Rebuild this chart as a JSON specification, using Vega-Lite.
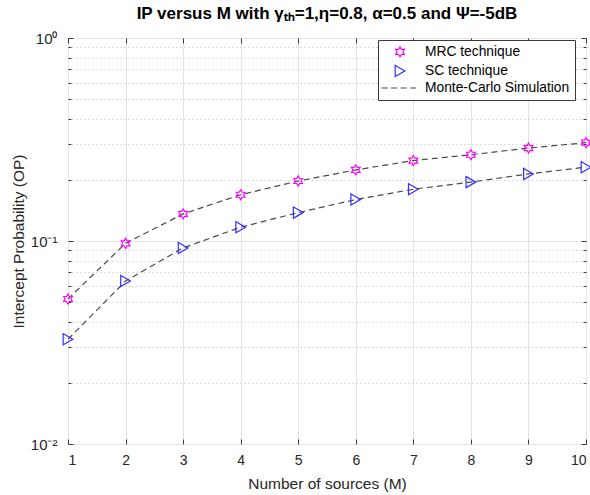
{
  "$schema": "https://vega.github.io/schema/vega-lite/v6.json",
  "width": 518,
  "height": 406,
  "autosize": {"type": "none"},
  "padding": {"left": 68, "top": 38, "right": 4, "bottom": 51},
  "background": "white",
  "config": {
    "font": "Liberation Sans",
    "view": {"stroke": "#3a3a3a", "strokeWidth": 1},
    "axis": {"labelFont": "Liberation Sans", "titleFont": "Liberation Sans", "labelColor": "#262626", "titleColor": "#262626", "titleFontWeight": "normal", "domain": false, "tickColor": "#3a3a3a"}
  },
  "title": {"text": "IP versus M with γₜₕ=1,η=0.8, α=0.5 and Ψ=-5dB", "fontSize": 17, "fontWeight": "bold", "color": "#000000", "anchor": "middle", "offset": 8, "font": "Liberation Sans"},
  "data": {"values": [
    {"M": 1, "series": "MRC technique", "OP": 0.0518},
    {"M": 2, "series": "MRC technique", "OP": 0.0974},
    {"M": 3, "series": "MRC technique", "OP": 0.136},
    {"M": 4, "series": "MRC technique", "OP": 0.169},
    {"M": 5, "series": "MRC technique", "OP": 0.1975},
    {"M": 6, "series": "MRC technique", "OP": 0.224},
    {"M": 7, "series": "MRC technique", "OP": 0.249},
    {"M": 8, "series": "MRC technique", "OP": 0.266},
    {"M": 9, "series": "MRC technique", "OP": 0.287},
    {"M": 10, "series": "MRC technique", "OP": 0.305},
    {"M": 1, "series": "SC technique", "OP": 0.0328},
    {"M": 2, "series": "SC technique", "OP": 0.0635},
    {"M": 3, "series": "SC technique", "OP": 0.0924},
    {"M": 4, "series": "SC technique", "OP": 0.117},
    {"M": 5, "series": "SC technique", "OP": 0.138},
    {"M": 6, "series": "SC technique", "OP": 0.160},
    {"M": 7, "series": "SC technique", "OP": 0.180},
    {"M": 8, "series": "SC technique", "OP": 0.195},
    {"M": 9, "series": "SC technique", "OP": 0.214},
    {"M": 10, "series": "SC technique", "OP": 0.231}
  ]},
  "resolve": {"axis": {"x": "independent", "y": "independent"}},
  "layer": [
    {
      "mark": {"type": "point", "opacity": 0},
      "encoding": {
        "x": {"field": "M", "type": "quantitative", "scale": {"domain": [1, 10], "nice": false, "zero": false}, "axis": null},
        "y": {"field": "OP", "type": "quantitative", "scale": {"type": "log", "domain": [0.01, 1], "nice": false},
          "axis": {"orient": "left", "values": [0.02, 0.03, 0.04, 0.05, 0.06, 0.07, 0.08, 0.09, 0.2, 0.3, 0.4, 0.5, 0.6, 0.7, 0.8, 0.9], "labels": false, "title": null, "grid": true, "gridDash": [1, 3], "gridColor": "#b8b8b8", "gridWidth": 1, "ticks": true, "tickSize": -3}}
      }
    },
    {
      "mark": {"type": "point", "opacity": 0},
      "encoding": {
        "x": {"field": "M", "type": "quantitative", "axis": {"orient": "top", "values": [1, 2, 3, 4, 5, 6, 7, 8, 9, 10], "labels": false, "title": null, "grid": false, "ticks": true, "tickSize": -5}},
        "y": {"field": "OP", "type": "quantitative",
          "axis": {"orient": "right", "values": [0.02, 0.03, 0.04, 0.05, 0.06, 0.07, 0.08, 0.09, 0.2, 0.3, 0.4, 0.5, 0.6, 0.7, 0.8, 0.9], "labels": false, "title": null, "grid": false, "ticks": true, "tickSize": -3}}
      }
    },
    {
      "mark": {"type": "line", "strokeDash": [6, 4], "color": "#4a4a4a", "strokeWidth": 1.2},
      "encoding": {
        "x": {"field": "M", "type": "quantitative",
          "axis": {"orient": "bottom", "values": [1, 2, 3, 4, 5, 6, 7, 8, 9, 10], "grid": true, "gridColor": "#e3e3e3", "ticks": true, "tickSize": -5, "labelPadding": 14, "labelFontSize": 14, "title": "Number of sources (M)", "titleFontSize": 15.5, "titlePadding": 9}},
        "y": {"field": "OP", "type": "quantitative",
          "axis": {"orient": "left", "values": [0.01, 0.1, 1], "labelExpr": "datum.value >= 0.5 ? '10⁰' : datum.value >= 0.05 ? '10⁻¹' : '10⁻²'", "grid": true, "gridColor": "#e3e3e3", "ticks": true, "tickSize": -5, "labelPadding": 16, "labelFontSize": 15, "title": "Intercept Probability (OP)", "titleFontSize": 15.5, "titlePadding": 4}},
        "detail": {"field": "series"}
      }
    },
    {
      "mark": {"type": "point", "filled": false, "strokeWidth": 1.2, "opacity": 1},
      "encoding": {
        "x": {"field": "M", "type": "quantitative", "axis": null},
        "y": {"field": "OP", "type": "quantitative",
          "axis": {"orient": "right", "values": [0.01, 0.1, 1], "labels": false, "title": null, "grid": false, "ticks": true, "tickSize": -5}},
        "shape": {"field": "series", "type": "nominal",
          "scale": {"domain": ["MRC technique", "SC technique", "Monte-Carlo Simulation"], "range": ["M0,-1L0.289,-0.5L0.866,-0.5L0.577,0L0.866,0.5L0.289,0.5L0,1L-0.289,0.5L-0.866,0.5L-0.577,0L-0.866,-0.5L-0.289,-0.5Z", "triangle-right", "M-3,0H3"]}},
        "strokeDash": {"field": "series", "type": "nominal",
          "scale": {"domain": ["MRC technique", "SC technique", "Monte-Carlo Simulation"], "range": [[1, 0], [1, 0], [6, 3.5]]}},
        "color": {"field": "series", "type": "nominal",
          "scale": {"domain": ["MRC technique", "SC technique", "Monte-Carlo Simulation"], "range": ["#ff00ff", "#2f2fff", "#4a4a4a"]},
          "legend": {"orient": "none", "legendX": 310, "legendY": 2, "title": null, "fillColor": "white", "strokeColor": "#3a3a3a", "padding": 5, "labelFontSize": 13.8, "labelColor": "#000000", "labelFont": "Liberation Sans", "symbolSize": 110, "symbolStrokeWidth": 1.2, "symbolOpacity": 1, "symbolOffset": 10, "labelOffset": 18, "rowPadding": 2}},
        "size": {"field": "series", "type": "nominal", "scale": {"domain": ["MRC technique", "SC technique", "Monte-Carlo Simulation"], "range": [100, 150, 100]}, "legend": null}
      }
    }
  ]
}
